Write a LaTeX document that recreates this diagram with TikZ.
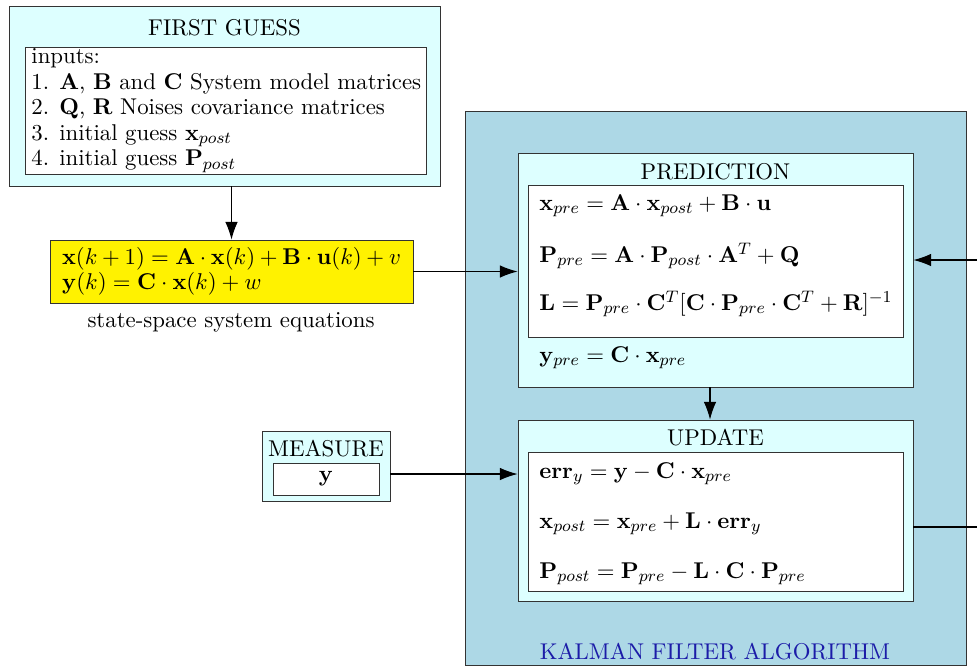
\documentclass[tikz,border=0pt]{standalone}
\usetikzlibrary{arrows.meta}

\definecolor{paleCyan}{HTML}{DDFFFF}
\definecolor{kalmanBlue}{HTML}{ADD8E6}
\definecolor{labelBlue}{HTML}{1C1CA8}

\begin{document}
\begin{tikzpicture}[x=0.48pt, y=-0.48pt,
    font=\fontsize{10.95}{12.25}\selectfont,
    >={Latex[length=8.5pt,width=6pt]},
    panel/.style={draw=black!80, fill=paleCyan, inner sep=0pt},
    sheet/.style={draw=black!80, fill=white, inner sep=0pt},
    eqn/.style={anchor=west, inner sep=0pt},
    edge/.style={->, line width=0.5pt}]

  \useasboundingbox (0,0) rectangle (977,669);

  % first guess
  \node[panel, minimum width=206.9pt, minimum height=86.4pt] (fg) at (224.5,96) {};
  \node (fgT) at (224.5,28) {FIRST GUESS};
  \node[sheet, minimum width=192.5pt, minimum height=61pt] (fgIn) at (225.5,110.5) {};
  \node[anchor=west, align=left, inner sep=0pt] (fgTxt) at (31,110.5)
    {inputs:\\
     1. $\mathbf{A}$, $\mathbf{B}$ and $\mathbf{C}$ System model matrices\\
     2. $\mathbf{Q}$, $\mathbf{R}$ Noises covariance matrices\\
     3. initial guess $\mathbf{x}_{post}$\\
     4. initial guess $\mathbf{P}_{post}$};

  % system model
  \node[draw=black!80, fill=yellow, align=left, text width=162.6pt,
        inner xsep=5.8pt, minimum height=30.2pt] (ssm) at (231.5,271.5)
    {$\mathbf{x}(k+1) = \mathbf{A}\cdot\mathbf{x}(k) + \mathbf{B}\cdot\mathbf{u}(k) + v$\\
     $\mathbf{y}(k) = \mathbf{C}\cdot\mathbf{x}(k) + w$};
  \node (ssmLbl) at (231,322) {state-space system equations};

  % kalman filter
  \node[draw=black!80, fill=kalmanBlue, minimum width=240.5pt,
        minimum height=265.9pt, inner sep=0pt] (kf) at (715.5,388) {};
  \node[text=labelBlue] (kfLbl) at (715,652) {KALMAN FILTER ALGORITHM};

  % prediction
  \node[panel, minimum width=189.6pt, minimum height=112.3pt] (pred) at (715.5,270) {};
  \node (predT) at (715.5,172) {PREDICTION};
  \node[sheet, minimum width=180pt, minimum height=73pt] (predIn) at (715.5,261) {};
  \node[eqn] (eXpre) at (539,206)
    {$\mathbf{x}_{pre} = \mathbf{A}\cdot\mathbf{x}_{post} + \mathbf{B}\cdot\mathbf{u}$};
  \node[eqn] (ePpre) at (539,256)
    {$\mathbf{P}_{pre} = \mathbf{A}\cdot\mathbf{P}_{post}\cdot\mathbf{A}^T + \mathbf{Q}$};
  \node[eqn] (eL) at (539,304)
    {$\mathbf{L} = \mathbf{P}_{pre}\cdot\mathbf{C}^T[\mathbf{C}\cdot\mathbf{P}_{pre}\cdot\mathbf{C}^T + \mathbf{R}]^{-1}$};
  \node[eqn] (eYpre) at (539,358)
    {$\mathbf{y}_{pre} = \mathbf{C}\cdot\mathbf{x}_{pre}$};

  % update
  \node[panel, minimum width=189.6pt, minimum height=86.9pt] (upd) at (715.5,510.5) {};
  \node (updT) at (715.5,438) {UPDATE};
  \node[sheet, minimum width=180pt, minimum height=66.7pt] (updIn) at (715.5,521.5) {};
  \node[eqn] (eErr) at (539,474)
    {$\mathbf{err}_y = \mathbf{y} - \mathbf{C}\cdot\mathbf{x}_{pre}$};
  \node[eqn] (eXpost) at (539,524)
    {$\mathbf{x}_{post} = \mathbf{x}_{pre} + \mathbf{L}\cdot\mathbf{err}_y$};
  \node[eqn] (ePpost) at (539,574)
    {$\mathbf{P}_{post} = \mathbf{P}_{pre} - \mathbf{L}\cdot\mathbf{C}\cdot\mathbf{P}_{pre}$};

  % measure
  \node[panel, minimum width=61.4pt, minimum height=33.6pt] (meas) at (326,466) {};
  \node (measT) at (326,449) {MEASURE};
  \node[sheet, minimum width=50.9pt, minimum height=15.4pt] (measIn) at (326,479) {$\mathbf{y}$};

  % connections
  \coordinate (fbLow) at (1010,527);
  \coordinate (fbHigh) at (1010,260);
  \coordinate (predOut) at (710,387);

  \draw[edge] (fg.south -| ssm.north) -- (ssm.north);
  \draw[edge] (ssm.east) -- (ssm.east -| pred.west);
  \draw[edge] (predOut) -- (predOut |- upd.north);
  \draw[edge] (meas.east |- eErr) -- (upd.west |- eErr);
  \draw[edge] (upd.east |- fbLow) -- (fbLow) -- (fbHigh) -- (pred.east |- fbHigh);
\end{tikzpicture}
\end{document}
